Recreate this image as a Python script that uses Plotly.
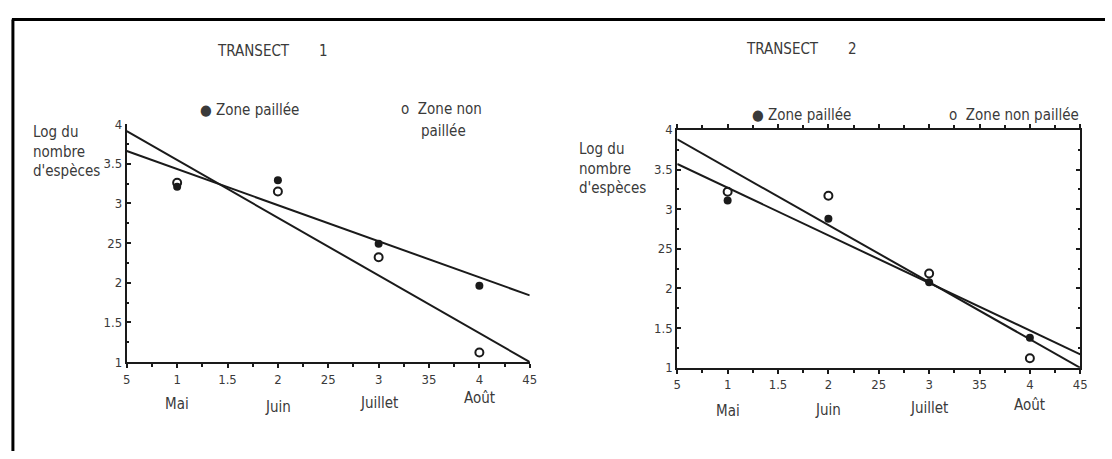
import plotly.graph_objects as go

# ---- data ----
months_x = [1, 2, 3, 4]
month_names = ["Mai", "Juin", "Juillet", "Août"]

t1_paillee = [3.21, 3.29, 2.49, 1.96]
t1_non_paillee = [3.26, 3.15, 2.32, 1.12]
t2_paillee = [3.11, 2.88, 2.08, 1.38]
t2_non_paillee = [3.22, 3.17, 2.19, 1.12]

fit_x = [0.5, 4.5]
t1_fit_paillee = [3.66, 1.84]
t1_fit_non_paillee = [3.91, 1.0]
t2_fit_paillee = [3.57, 1.17]
t2_fit_non_paillee = [3.88, 1.0]

x_tickvals = [0.5, 1, 1.5, 2, 2.5, 3, 3.5, 4, 4.5]
x_ticktext = ["5", "1", "1.5", "2", "25", "3", "35", "4", "45"]
y_tickvals = [1, 1.5, 2, 2.5, 3, 3.5, 4]
y_ticktext = ["1", "1.5", "2", "25", "3", "3.5", "4"]

W, H = 1112, 459
FONT = "Liberation Sans Narrow, DejaVu Sans Condensed, sans-serif"
TXT = "#3a3a3a"
INK = "#1a1a1a"

fig = go.Figure()

def add_panel(xa, ya, paillee, non_paillee, fit_p, fit_np):
    fig.add_trace(go.Scatter(x=fit_x, y=fit_np, mode="lines", xaxis=xa, yaxis=ya,
                             line=dict(color=INK, width=2), showlegend=False))
    fig.add_trace(go.Scatter(x=fit_x, y=fit_p, mode="lines", xaxis=xa, yaxis=ya,
                             line=dict(color=INK, width=2), showlegend=False))
    fig.add_trace(go.Scatter(x=months_x, y=non_paillee, mode="markers", xaxis=xa, yaxis=ya,
                             marker=dict(symbol="circle-open", size=8, color=INK,
                                         line=dict(width=2, color=INK)),
                             showlegend=False, cliponaxis=False))
    fig.add_trace(go.Scatter(x=months_x, y=paillee, mode="markers", xaxis=xa, yaxis=ya,
                             marker=dict(symbol="circle", size=8, color=INK),
                             showlegend=False, cliponaxis=False))

add_panel("x", "y", t1_paillee, t1_non_paillee, t1_fit_paillee, t1_fit_non_paillee)
add_panel("x2", "y2", t2_paillee, t2_non_paillee, t2_fit_paillee, t2_fit_non_paillee)

def px_x(p):
    return p / W

def px_y(p):
    return 1 - p / H

def xaxis_cfg(d0, d1, anchor, mirror):
    return dict(domain=[px_x(d0), px_x(d1)], anchor=anchor, range=[0.5, 4.5],
                tickvals=x_tickvals, ticktext=x_ticktext, showgrid=False, zeroline=False,
                showline=True, linecolor=INK, linewidth=2, mirror=mirror,
                ticks="outside", ticklen=4, tickwidth=1.5, tickcolor=INK,
                minor=dict(dtick=0.25, tick0=0.5, ticks="outside", ticklen=3, tickcolor=INK, showgrid=False),
                tickfont=dict(family=FONT, size=13, color=TXT), fixedrange=True)

def yaxis_cfg(d0, d1, anchor, mirror):
    return dict(domain=[px_y(d1), px_y(d0)], anchor=anchor, range=[1, 4],
                tickvals=y_tickvals, ticktext=y_ticktext, showgrid=False, zeroline=False,
                showline=True, linecolor=INK, linewidth=2, mirror=mirror,
                ticks="inside", ticklen=4, tickwidth=1.5, tickcolor=INK,
                minor=dict(dtick=0.25, tick0=1, ticks="inside", ticklen=2, tickcolor=INK, showgrid=False),
                tickfont=dict(family=FONT, size=13, color=TXT), fixedrange=True)

fig.update_layout(
    width=W, height=H, margin=dict(l=0, r=0, t=0, b=0),
    paper_bgcolor="white", plot_bgcolor="white",
    xaxis=xaxis_cfg(124, 531, "y", False),
    yaxis=yaxis_cfg(121, 367, "x", False),
    xaxis2=xaxis_cfg(680, 1087, "y2", "ticks"),
    yaxis2=yaxis_cfg(127, 373, "x2", "ticks"),
)

# outer frame (left and top edges visible in the scan)
fig.add_shape(type="line", xref="paper", yref="paper", x0=px_x(9), x1=px_x(9), y0=px_y(13), y1=0,
              line=dict(color="black", width=3))
fig.add_shape(type="line", xref="paper", yref="paper", x0=px_x(8), x1=1, y0=px_y(13), y1=px_y(13),
              line=dict(color="black", width=3))

def ann(x, y, text, size=15, xanchor="left", align="left"):
    fig.add_annotation(xref="paper", yref="paper", x=px_x(x), y=px_y(y), text=text,
                       showarrow=False, xanchor=xanchor, yanchor="middle", align=align,
                       font=dict(family=FONT, size=size, color=TXT))

# titles
ann(213, 46, "TRANSECT&nbsp;&nbsp;&nbsp;&nbsp;&nbsp;&nbsp;&nbsp;1", size=15)
ann(747, 43, "TRANSECT&nbsp;&nbsp;&nbsp;&nbsp;&nbsp;&nbsp;&nbsp;2", size=15)

# legends
ann(196, 106, "●&nbsp;Zone paillée")
ann(399, 105, "o&nbsp;&nbsp;Zone non")
ann(419, 128, "paillée")
ann(753, 112, "●&nbsp;Zone paillée")
ann(952, 112, "o&nbsp;&nbsp;Zone non paillée")

# y-axis titles
for x0, yc in ((27, 149), (579, 167)):
    fig.add_annotation(xref="paper", yref="paper", x=px_x(x0), y=px_y(yc),
                       text="Log du<br>nombre<br>d'espèces", showarrow=False,
                       xanchor="left", yanchor="middle", align="left",
                       font=dict(family=FONT, size=15, color=TXT))

# month labels under each panel
for xa, ys in (("x", [410, 413, 409, 404]), ("x2", [418, 417, 415, 411])):
    for mx, name, yy in zip(months_x, month_names, ys):
        fig.add_annotation(xref=xa, yref="paper", x=mx, y=px_y(yy), text=name,
                           showarrow=False, xanchor="center", yanchor="middle",
                           font=dict(family=FONT, size=15, color=TXT))

fig.write_html("out.html", config={"displayModeBar": False},
               post_script="document.body.style.margin='0';document.body.style.overflow='hidden';")
